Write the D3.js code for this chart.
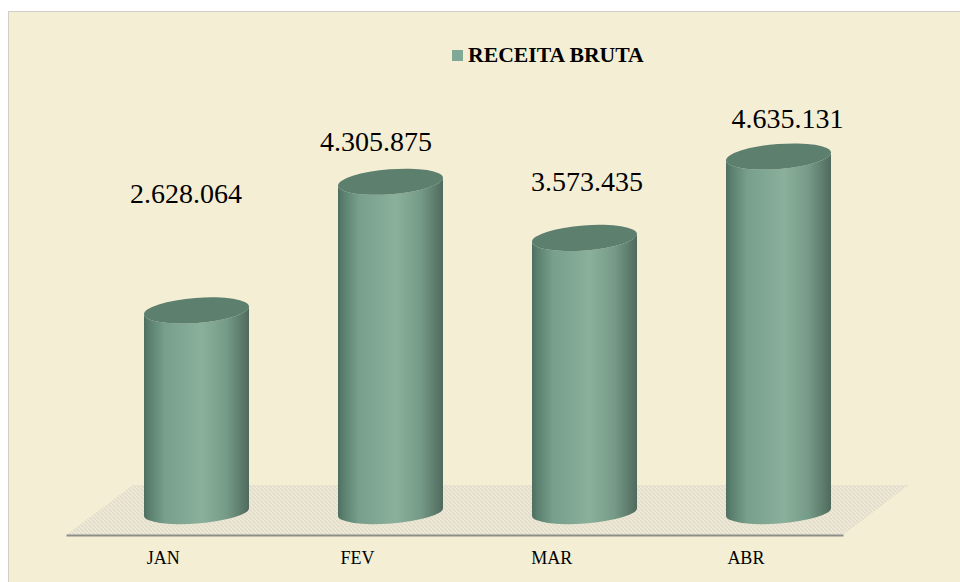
<!DOCTYPE html>
<html><head><meta charset="utf-8">
<script src="https://cdn.jsdelivr.net/npm/d3@7/dist/d3.min.js"></script>
<style>html,body{margin:0;padding:0;background:#fff}svg{display:block}</style>
</head><body><div id="chart"></div>
<script>
const categories = ["JAN","FEV","MAR","ABR"];
const receita = [2628064,4305875,3573435,4635131];
const valueLabels = ["2.628.064","4.305.875","3.573.435","4.635.131"];
const seriesName = "RECEITA BRUTA";
const labelDx = [-10.5,-14.5,2.5,9];
const labelBaseline = [203,151,191,128];

const W=960,H=582;
const svg=d3.select("#chart").append("svg").attr("width",W).attr("height",H);
const defs=svg.append("defs");
const grad=defs.append("linearGradient").attr("id","cyl").attr("x1","0").attr("x2","1").attr("y1","0").attr("y2","0");
[[0,"#4f6f60"],[0.05,"#5a7f6e"],[0.2,"#779f8c"],[0.55,"#8ab09c"],[0.78,"#769c89"],[0.93,"#5c7a6b"],[1,"#506a5d"]]
 .forEach(s=>grad.append("stop").attr("offset",s[0]).attr("stop-color",s[1]));
const pat=defs.append("pattern").attr("id","hatch").attr("patternUnits","userSpaceOnUse").attr("width",4).attr("height",4);
pat.append("rect").attr("width",4).attr("height",4).attr("fill","#eee9d5");
pat.append("path").attr("d","M0,0L4,4").attr("stroke","#dfdac9").attr("stroke-width",1.2);

svg.append("rect").attr("x",8.5).attr("y",11.5).attr("width",W).attr("height",H).attr("fill","#f4eed4").attr("stroke","#d2cdc8");

const y=d3.scaleLinear().domain([0,5000000]).range([512,128.5]);
const bandW=105, step=194;
const x=d3.scaleBand().domain(categories).range([99.5,875.5]).paddingInner(1-bandW/step).paddingOuter((1-bandW/step)/2);
const axisX=d3.scaleBand().domain(categories).range([66,843]);

svg.append("path").attr("d",d3.line()([[66,535],[843,535],[909,485],[133,485]])+"Z").attr("fill","url(#hatch)");

const g=svg.append("g").attr("transform","translate(0,535)").call(d3.axisBottom(axisX).tickSize(0).tickPadding(16));
g.select(".domain").attr("stroke","#8e8e8a").attr("stroke-width",2);
g.selectAll("text").attr("font-family","'Liberation Serif'").attr("font-size",18).attr("fill","#000");

const tilt=4, rxOf=w=>Math.hypot(w/2,tilt);
const cyl=svg.selectAll("g.cyl").data(categories).join("g").attr("class","cyl");
cyl.append("path").attr("fill","url(#cyl)").attr("d",(c,i)=>{
  const l=x(c),r=l+x.bandwidth(),t=y(receita[i]),b=y(0),rx=rxOf(x.bandwidth());
  return `M${l},${t+tilt}L${l},${b+tilt}A${rx},11.5,-4.4,0,0,${r},${b-tilt}L${r},${t-tilt}A${rx},12.5,-4.4,0,1,${l},${t+tilt}Z`;
});
cyl.append("path").attr("fill","#5c7f6e").attr("d",(c,i)=>{
  const l=x(c),r=l+x.bandwidth(),t=y(receita[i]),rx=rxOf(x.bandwidth());
  return `M${l},${t+tilt}A${rx},12.5,-4.4,0,1,${r},${t-tilt}A${rx},12.5,-4.4,0,1,${l},${t+tilt}Z`;
});
svg.selectAll("text.val").data(valueLabels).join("text").attr("class","val")
 .attr("x",(d,i)=>x(categories[i])+x.bandwidth()/2+labelDx[i]).attr("y",(d,i)=>labelBaseline[i])
 .attr("text-anchor","middle").attr("font-family","'Liberation Serif'").attr("font-size",28).attr("fill","#000").text(d=>d);

svg.append("rect").attr("x",452).attr("y",50).attr("width",11).attr("height",11).attr("fill","#7fa896");
svg.append("text").attr("x",468).attr("y",62).attr("font-family","'Liberation Serif'").attr("font-weight","bold").attr("font-size",21.7).attr("fill","#000").text(seriesName);
</script></body></html>
